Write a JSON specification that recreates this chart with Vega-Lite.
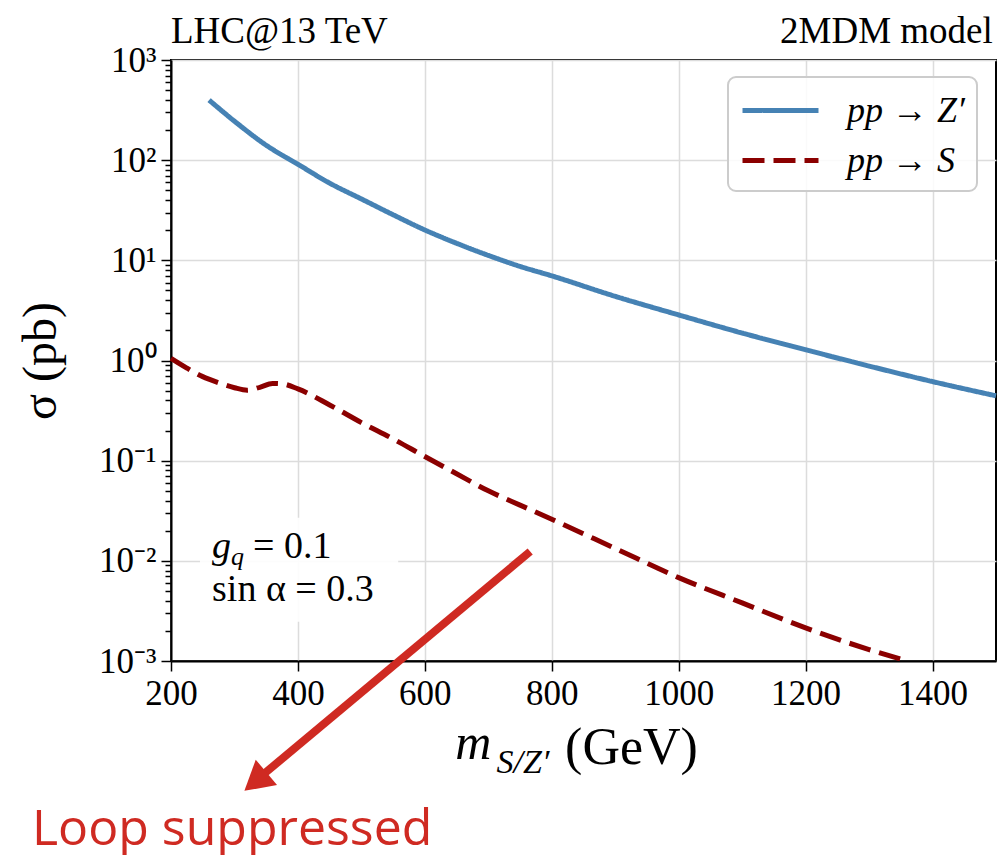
{
  "$schema": "https://vega.github.io/schema/vega-lite/v6.json",
  "width": 825,
  "height": 601,
  "autosize": {"type": "none"},
  "padding": {"left": 171, "top": 60, "right": 3, "bottom": 194},
  "background": "white",
  "config": {
    "view": {"stroke": "black", "strokeWidth": 2},
    "axis": {
      "grid": true,
      "labelFont": "Liberation Serif",
      "labelFontSize": 35,
      "labelColor": "black",
      "tickColor": "black",
      "tickWidth": 1.5,
      "domainColor": "black",
      "domainWidth": 2,
      "gridColor": "#dcdcdc",
      "gridWidth": 1.5,
      "titleFont": "Liberation Serif",
      "titleFontWeight": "normal",
      "titleColor": "black"
    },
    "legend": {
      "orient": "none",
      "legendX": 557,
      "legendY": 17,
      "padding": 12,
      "strokeColor": "#cccccc",
      "strokeWidth": 2,
      "fillColor": "rgba(255,255,255,0.85)",
      "cornerRadius": 8,
      "labelFont": "Liberation Serif",
      "labelFontStyle": "italic",
      "labelFontSize": 36,
      "labelColor": "black",
      "symbolType": "M-1,0L3,0",
      "symbolStrokeWidth": 5,
      "symbolSize": 1444,
      "labelOffset": 64,
      "rowPadding": 10,
      "title": null
    }
  },
  "data": {
    "values": [
      {"m": 260, "sigma": 398, "process": "pp → Z′"},
      {"m": 300, "sigma": 245, "process": "pp → Z′"},
      {"m": 350, "sigma": 141, "process": "pp → Z′"},
      {"m": 400, "sigma": 91, "process": "pp → Z′"},
      {"m": 450, "sigma": 59, "process": "pp → Z′"},
      {"m": 500, "sigma": 41, "process": "pp → Z′"},
      {"m": 550, "sigma": 28.5, "process": "pp → Z′"},
      {"m": 600, "sigma": 20.1, "process": "pp → Z′"},
      {"m": 650, "sigma": 14.8, "process": "pp → Z′"},
      {"m": 700, "sigma": 11.2, "process": "pp → Z′"},
      {"m": 750, "sigma": 8.7, "process": "pp → Z′"},
      {"m": 800, "sigma": 7.0, "process": "pp → Z′"},
      {"m": 900, "sigma": 4.37, "process": "pp → Z′"},
      {"m": 1000, "sigma": 2.85, "process": "pp → Z′"},
      {"m": 1100, "sigma": 1.88, "process": "pp → Z′"},
      {"m": 1200, "sigma": 1.28, "process": "pp → Z′"},
      {"m": 1300, "sigma": 0.88, "process": "pp → Z′"},
      {"m": 1400, "sigma": 0.616, "process": "pp → Z′"},
      {"m": 1500, "sigma": 0.444, "process": "pp → Z′"},
      {"m": 200, "sigma": 1.05, "process": "pp → S"},
      {"m": 225, "sigma": 0.84, "process": "pp → S"},
      {"m": 250, "sigma": 0.69, "process": "pp → S"},
      {"m": 275, "sigma": 0.6, "process": "pp → S"},
      {"m": 300, "sigma": 0.535, "process": "pp → S"},
      {"m": 320, "sigma": 0.505, "process": "pp → S"},
      {"m": 340, "sigma": 0.54, "process": "pp → S"},
      {"m": 360, "sigma": 0.59, "process": "pp → S"},
      {"m": 375, "sigma": 0.585, "process": "pp → S"},
      {"m": 400, "sigma": 0.52, "process": "pp → S"},
      {"m": 450, "sigma": 0.36, "process": "pp → S"},
      {"m": 500, "sigma": 0.24, "process": "pp → S"},
      {"m": 550, "sigma": 0.165, "process": "pp → S"},
      {"m": 600, "sigma": 0.11, "process": "pp → S"},
      {"m": 650, "sigma": 0.074, "process": "pp → S"},
      {"m": 700, "sigma": 0.05, "process": "pp → S"},
      {"m": 750, "sigma": 0.036, "process": "pp → S"},
      {"m": 800, "sigma": 0.026, "process": "pp → S"},
      {"m": 900, "sigma": 0.0133, "process": "pp → S"},
      {"m": 1000, "sigma": 0.0068, "process": "pp → S"},
      {"m": 1100, "sigma": 0.0038, "process": "pp → S"},
      {"m": 1200, "sigma": 0.00214, "process": "pp → S"},
      {"m": 1300, "sigma": 0.0013, "process": "pp → S"},
      {"m": 1360, "sigma": 0.001, "process": "pp → S"}
    ]
  },
  "layer": [
    {
      "mark": {"type": "line", "strokeWidth": 5, "interpolate": "monotone"},
      "encoding": {
        "x": {
          "field": "m", "type": "quantitative",
          "scale": {"domain": [200, 1500], "nice": false, "zero": false},
          "axis": {
            "values": [200, 400, 600, 800, 1000, 1200, 1400],
            "format": "d",
            "grid": true,
            "tickSize": 10,
            "labelPadding": 5,
            "labelFlush": false,
            "title": null
          }
        },
        "y": {
          "field": "sigma", "type": "quantitative",
          "scale": {"type": "log", "domain": [0.001, 1000], "nice": false},
          "axis": {
            "values": [0.001, 0.002, 0.003, 0.004, 0.005, 0.006, 0.007, 0.008, 0.009,
                       0.01, 0.02, 0.03, 0.04, 0.05, 0.06, 0.07, 0.08, 0.09,
                       0.1, 0.2, 0.3, 0.4, 0.5, 0.6, 0.7, 0.8, 0.9,
                       1, 2, 3, 4, 5, 6, 7, 8, 9,
                       10, 20, 30, 40, 50, 60, 70, 80, 90,
                       100, 200, 300, 400, 500, 600, 700, 800, 900, 1000],
            "grid": true,
            "labelExpr": "abs(datum.value/pow(10, round(log(datum.value)/LN10)) - 1) < 0.001 ? (datum.value >= 999 ? '10³' : datum.value >= 99 ? '10²' : datum.value >= 9 ? '10¹' : datum.value >= 0.9 ? '10⁰' : datum.value >= 0.09 ? '10⁻¹' : datum.value >= 0.009 ? '10⁻²' : '10⁻³') : ''",
            "tickSize": {"condition": {"test": "abs(datum.value/pow(10, round(log(datum.value)/LN10)) - 1) < 0.001", "value": 10}, "value": 6},
            "gridOpacity": {"condition": {"test": "abs(datum.value/pow(10, round(log(datum.value)/LN10)) - 1) < 0.001", "value": 1}, "value": 0},
            "labelPadding": 5,
            "labelFlush": false,
            "labelOverlap": false,
            "title": "σ (pb)",
            "titleFontSize": 48,
            "titlePadding": 33
          }
        },
        "color": {
          "field": "process", "type": "nominal",
          "scale": {"domain": ["pp → Z′", "pp → S"], "range": ["#4682b4", "#8b0000"]}
        },
        "strokeDash": {
          "field": "process", "type": "nominal",
          "scale": {"domain": ["pp → Z′", "pp → S"], "range": [[1, 0], [22, 9]]}
        }
      }
    },
    {
      "data": {"values": [{}]},
      "mark": {"type": "rect", "fill": "white", "opacity": 0.9},
      "encoding": {
        "x": {"datum": 245.7, "type": "quantitative"},
        "x2": {"datum": 558},
        "y": {"datum": 0.0269, "type": "quantitative"},
        "y2": {"datum": 0.00246}
      }
    },
    {
      "data": {"values": [{}]},
      "mark": {"type": "text", "font": "Liberation Serif", "fontSize": 38, "fontStyle": "italic", "align": "left", "baseline": "alphabetic", "text": "g"},
      "encoding": {"x": {"datum": 264.7, "type": "quantitative"}, "y": {"datum": 0.01072, "type": "quantitative"}}
    },
    {
      "data": {"values": [{}]},
      "mark": {"type": "text", "font": "Liberation Serif", "fontSize": 26, "fontStyle": "italic", "align": "left", "baseline": "alphabetic", "text": "q", "dx": 19, "dy": 7},
      "encoding": {"x": {"datum": 264.7, "type": "quantitative"}, "y": {"datum": 0.01072, "type": "quantitative"}}
    },
    {
      "data": {"values": [{}]},
      "mark": {"type": "text", "font": "Liberation Serif", "fontSize": 38, "align": "left", "baseline": "alphabetic", "text": "= 0.1", "dx": 41},
      "encoding": {"x": {"datum": 264.7, "type": "quantitative"}, "y": {"datum": 0.01072, "type": "quantitative"}}
    },
    {
      "data": {"values": [{}]},
      "mark": {"type": "text", "font": "Liberation Serif", "fontSize": 38, "align": "left", "baseline": "alphabetic", "text": "sin α = 0.3"},
      "encoding": {"x": {"datum": 264.7, "type": "quantitative"}, "y": {"datum": 0.00399, "type": "quantitative"}}
    },
    {
      "data": {"values": [{}]},
      "mark": {"type": "text", "font": "Liberation Serif", "fontSize": 37, "align": "left", "baseline": "alphabetic", "text": "LHC@13 TeV"},
      "encoding": {"x": {"datum": 200, "type": "quantitative"}, "y": {"datum": 1478, "type": "quantitative"}}
    },
    {
      "data": {"values": [{}]},
      "mark": {"type": "text", "font": "Liberation Serif", "fontSize": 37, "align": "right", "baseline": "alphabetic", "text": "2MDM model"},
      "encoding": {"x": {"datum": 1495, "type": "quantitative"}, "y": {"datum": 1478, "type": "quantitative"}}
    },
    {
      "data": {"values": [{}]},
      "mark": {"type": "text", "font": "Liberation Serif", "fontSize": 50, "fontStyle": "italic", "align": "left", "baseline": "alphabetic", "text": "m"},
      "encoding": {"x": {"datum": 648, "type": "quantitative"}, "y": {"datum": 0.000106, "type": "quantitative"}}
    },
    {
      "data": {"values": [{}]},
      "mark": {"type": "text", "font": "Liberation Serif", "fontSize": 34, "fontStyle": "italic", "align": "left", "baseline": "alphabetic", "text": "S/Z′"},
      "encoding": {"x": {"datum": 713, "type": "quantitative"}, "y": {"datum": 0.0000766, "type": "quantitative"}}
    },
    {
      "data": {"values": [{}]},
      "mark": {"type": "text", "font": "Liberation Serif", "fontSize": 52, "align": "left", "baseline": "alphabetic", "text": "(GeV)"},
      "encoding": {"x": {"datum": 821, "type": "quantitative"}, "y": {"datum": 0.0000942, "type": "quantitative"}}
    },
    {
      "data": {"values": [{}]},
      "mark": {"type": "rule", "color": "#cf2a22", "strokeWidth": 8, "strokeCap": "butt"},
      "encoding": {
        "x": {"datum": 766, "type": "quantitative"},
        "y": {"datum": 0.0124, "type": "quantitative"},
        "x2": {"datum": 337.2},
        "y2": {"datum": 0.0000667}
      }
    },
    {
      "data": {"values": [{}]},
      "mark": {"type": "point", "shape": "triangle-up", "filled": true, "color": "#cf2a22", "opacity": 1, "size": 1100, "angle": 230},
      "encoding": {
        "x": {"datum": 333, "type": "quantitative"},
        "y": {"datum": 0.0000625, "type": "quantitative"}
      }
    },
    {
      "data": {"values": [{}]},
      "mark": {"type": "text", "font": "Open Sans", "fontSize": 50, "color": "#cf2a22", "align": "left", "baseline": "alphabetic", "text": "Loop suppressed"},
      "encoding": {"x": {"datum": -19, "type": "quantitative"}, "y": {"datum": 0.0000147, "type": "quantitative"}}
    }
  ]
}
